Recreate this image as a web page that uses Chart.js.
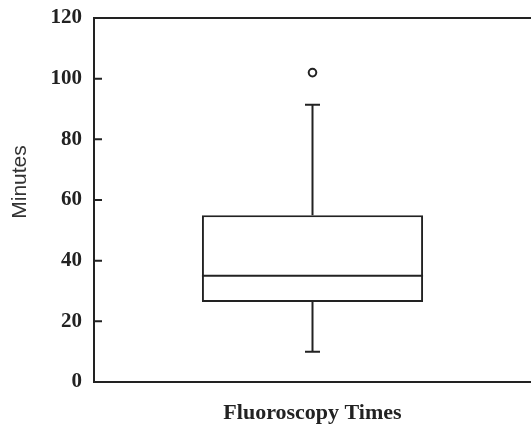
<!DOCTYPE html>
<html>
<head>
<meta charset="utf-8">
<script src="https://cdn.jsdelivr.net/npm/chart.js@4"></script>
<style>
html,body{margin:0;padding:0;background:#fff;}
canvas{display:block;}
</style>
</head>
<body>
<canvas id="c" width="531" height="424"></canvas>
<script>
const categories = ['Fluoroscopy Times'];
const boxQ1 = [26.4];
const boxQ3 = [55];
const medians = [35];
const whiskerLow = [10];
const whiskerHigh = [91.4];
const outliers = [[102]];
const yTicks = [0, 20, 40, 60, 80, 100, 120];
const yTitle = 'Minutes';
const xTitle = 'Fluoroscopy Times';

const INK = '#222';

const boxPlugin = {
  id: 'boxParts',
  afterDatasetsDraw(chart) {
    const ctx = chart.ctx;
    const ys = chart.scales.y;
    const meta = chart.getDatasetMeta(0);
    ctx.save();
    ctx.strokeStyle = INK;
    ctx.lineWidth = 2;
    categories.forEach((c, i) => {
      const bar = meta.data[i];
      const xc = bar.x;
      const half = bar.width / 2;
      const cap = 7.5;
      const yMed = ys.getPixelForValue(medians[i]);
      const yQ1 = ys.getPixelForValue(boxQ1[i]);
      const yQ3 = ys.getPixelForValue(boxQ3[i]);
      const yLo = ys.getPixelForValue(whiskerLow[i]);
      const yHi = ys.getPixelForValue(whiskerHigh[i]);
      ctx.beginPath();
      ctx.moveTo(xc - half, yMed); ctx.lineTo(xc + half, yMed);
      ctx.moveTo(xc, yQ3); ctx.lineTo(xc, yHi);
      ctx.moveTo(xc - cap, yHi); ctx.lineTo(xc + cap, yHi);
      ctx.moveTo(xc, yQ1); ctx.lineTo(xc, yLo);
      ctx.moveTo(xc - cap, yLo); ctx.lineTo(xc + cap, yLo);
      ctx.stroke();
    });
    ctx.restore();
  },
  afterDraw(chart) {
    const ctx = chart.ctx;
    const ys = chart.scales.y;
    const a = chart.chartArea;
    ctx.save();
    ctx.strokeStyle = INK;
    ctx.lineWidth = 2;
    ctx.beginPath();
    const yTop = ys.getPixelForValue(yTicks[yTicks.length - 1]);
    ctx.moveTo(a.left - 1, yTop); ctx.lineTo(a.right, yTop);
    yTicks.forEach(v => {
      const y = ys.getPixelForValue(v);
      ctx.moveTo(a.left, y); ctx.lineTo(a.left + 8, y);
    });
    ctx.stroke();
    // y axis title (placed a little above the plot centre, as in the original)
    ctx.translate(20, (a.top + a.bottom) / 2 - 18);
    ctx.rotate(-Math.PI / 2);
    ctx.fillStyle = '#333';
    ctx.font = '21px "Liberation Sans"';
    ctx.textAlign = 'center';
    ctx.textBaseline = 'middle';
    ctx.fillText(yTitle, 0, 0);
    ctx.restore();
  }
};

new Chart(document.getElementById('c'), {
  type: 'bar',
  data: {
    labels: categories,
    datasets: [
      {
        type: 'bar',
        data: categories.map((c, i) => [boxQ1[i], boxQ3[i]]),
        backgroundColor: '#fff',
        borderColor: INK,
        borderWidth: 2,
        borderSkipped: false,
        barPercentage: 0.506,
        categoryPercentage: 1.0,
        order: 2
      },
      {
        type: 'scatter',
        data: categories.flatMap((c, i) => outliers[i].map(v => ({x: c, y: v}))),
        pointStyle: 'circle',
        pointRadius: 3.8,
        pointBorderWidth: 2,
        pointBackgroundColor: '#fff',
        pointBorderColor: INK,
        order: 1
      }
    ]
  },
  options: {
    responsive: false,
    animation: false,
    events: [],
    layout: { autoPadding: false, padding: { top: 18, right: 0, bottom: 0, left: 0 } },
    plugins: { legend: { display: false }, tooltip: { enabled: false } },
    scales: {
      x: {
        type: 'category',
        grid: { display: false },
        border: { display: true, color: INK, width: 2 },
        ticks: { display: false },
        title: {
          display: true,
          text: xTitle,
          color: INK,
          font: { family: 'Liberation Serif', weight: 'bold', size: 22, lineHeight: 1 },
          padding: { top: 0, bottom: 0 }
        },
        afterFit(s) { s.height = 42; }
      },
      y: {
        min: yTicks[0],
        max: yTicks[yTicks.length - 1],
        afterBuildTicks(s) { s.ticks = yTicks.map(v => ({ value: v })); },
        grid: { display: false },
        border: { display: true, color: INK, width: 2 },
        ticks: {
          color: INK,
          padding: 4,
          font: { family: 'Liberation Serif', weight: 'bold', size: 21, lineHeight: 0.5 }
        },
        title: { display: false },
        afterFit(s) { s.width = 94; }
      }
    }
  },
  plugins: [boxPlugin]
});
</script>
</body>
</html>
